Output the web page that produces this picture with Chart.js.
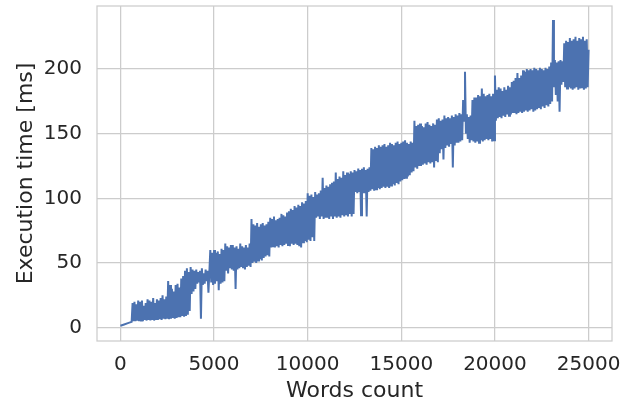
<!DOCTYPE html>
<html><head><meta charset="utf-8">
<script src="https://cdn.jsdelivr.net/npm/chart.js@4/dist/chart.umd.min.js"></script>
<style>html,body{margin:0;padding:0;background:#fff}#wrap{width:640px;height:401px}</style>
</head><body><div id="wrap"><canvas id="c" width="640" height="401"></canvas></div>
<script>
const words = [
  0, 200, 400, 600, 650, 700, 750, 800, 850, 900, 950,
  1000, 1050, 1100, 1150, 1200, 1250, 1300, 1350, 1400, 1450, 1500, 1550, 1600, 1650, 1700, 1750, 1800, 1850, 1900, 1950,
  2000, 2050, 2100, 2150, 2200, 2250, 2300, 2350, 2400, 2450, 2500, 2550, 2600, 2650, 2700, 2750, 2800, 2850, 2900, 2950,
  3000, 3050, 3100, 3150, 3200, 3250, 3300, 3350, 3400, 3450, 3500, 3550, 3600, 3650, 3700, 3750, 3800, 3850, 3900, 3950,
  4000, 4050, 4100, 4150, 4200, 4250, 4300, 4350, 4400, 4450, 4500, 4550, 4600, 4650, 4700, 4750, 4800, 4850, 4900, 4950,
  5000, 5050, 5100, 5150, 5200, 5250, 5300, 5350, 5400, 5450, 5500, 5550, 5600, 5650, 5700, 5750, 5800, 5850, 5900, 5950,
  6000, 6050, 6100, 6150, 6200, 6250, 6300, 6350, 6400, 6450, 6500, 6550, 6600, 6650, 6700, 6750, 6800, 6850, 6900, 6950,
  7000, 7050, 7100, 7150, 7200, 7250, 7300, 7350, 7400, 7450, 7500, 7550, 7600, 7650, 7700, 7750, 7800, 7850, 7900, 7950,
  8000, 8050, 8100, 8150, 8200, 8250, 8300, 8350, 8400, 8450, 8500, 8550, 8600, 8650, 8700, 8750, 8800, 8850, 8900, 8950,
  9000, 9050, 9100, 9150, 9200, 9250, 9300, 9350, 9400, 9450, 9500, 9550, 9600, 9650, 9700, 9750, 9800, 9850, 9900, 9950,
  10000, 10050, 10100, 10150, 10200, 10250, 10300, 10350, 10400, 10450, 10500, 10550, 10600, 10650, 10700, 10750, 10800, 10850, 10900, 10950,
  11000, 11050, 11100, 11150, 11200, 11250, 11300, 11350, 11400, 11450, 11500, 11550, 11600, 11650, 11700, 11750, 11800, 11850, 11900, 11950,
  12000, 12050, 12100, 12150, 12200, 12250, 12300, 12350, 12400, 12450, 12500, 12550, 12600, 12650, 12700, 12750, 12800, 12850, 12900, 12950,
  13000, 13050, 13100, 13150, 13200, 13250, 13300, 13350, 13400, 13450, 13500, 13550, 13600, 13650, 13700, 13750, 13800, 13850, 13900, 13950,
  14000, 14050, 14100, 14150, 14200, 14250, 14300, 14350, 14400, 14450, 14500, 14550, 14600, 14650, 14700, 14750, 14800, 14850, 14900, 14950,
  15000, 15050, 15100, 15150, 15200, 15250, 15300, 15350, 15400, 15450, 15500, 15550, 15600, 15650, 15700, 15750, 15800, 15850, 15900, 15950,
  16000, 16050, 16100, 16150, 16200, 16250, 16300, 16350, 16400, 16450, 16500, 16550, 16600, 16650, 16700, 16750, 16800, 16850, 16900, 16950,
  17000, 17050, 17100, 17150, 17200, 17250, 17300, 17350, 17400, 17450, 17500, 17550, 17600, 17650, 17700, 17750, 17800, 17850, 17900, 17950,
  18000, 18050, 18100, 18150, 18200, 18250, 18300, 18350, 18400, 18450, 18500, 18550, 18600, 18650, 18700, 18750, 18800, 18850, 18900, 18950,
  19000, 19050, 19100, 19150, 19200, 19250, 19300, 19350, 19400, 19450, 19500, 19550, 19600, 19650, 19700, 19750, 19800, 19850, 19900, 19950,
  20000, 20050, 20100, 20150, 20200, 20250, 20300, 20350, 20400, 20450, 20500, 20550, 20600, 20650, 20700, 20750, 20800, 20850, 20900, 20950,
  21000, 21050, 21100, 21150, 21200, 21250, 21300, 21350, 21400, 21450, 21500, 21550, 21600, 21650, 21700, 21750, 21800, 21850, 21900, 21950,
  22000, 22050, 22100, 22150, 22200, 22250, 22300, 22350, 22400, 22450, 22500, 22550, 22600, 22650, 22700, 22750, 22800, 22850, 22900, 22950,
  23000, 23050, 23100, 23150, 23200, 23250, 23300, 23350, 23400, 23450, 23500, 23550, 23600, 23650, 23700, 23750, 23800, 23850, 23900, 23950,
  24000, 24050, 24100, 24150, 24200, 24250, 24300, 24350, 24400, 24450, 24500, 24550, 24600, 24650, 24700, 24750, 24800, 24850, 24900, 24950,
  25000
];
const times = [
  1.5, 2.5, 3.5, 4.5, 19, 5, 20, 5, 18, 5.5, 21,
  5, 20, 5.5, 21, 5, 17, 6, 19, 5.5, 22, 6, 21, 5.5, 20, 6, 23, 5.5, 19, 6, 22,
  6, 21, 6.5, 23, 6, 25, 7, 22, 6.5, 24, 7, 36, 6.5, 33, 7, 30, 7.5, 28, 7, 33,
  7.5, 34, 8, 31, 8, 38, 9, 40, 8.5, 44, 9, 46, 10, 43, 13, 47, 26, 45, 28, 44,
  30, 45, 34, 43, 35, 44, 7, 46, 33, 42, 34, 45, 36, 44, 27, 43, 60, 35, 58, 33,
  60, 34, 58, 36, 59, 29, 57, 34, 61, 35, 60, 36, 65, 44, 63, 42, 62, 46, 64, 45,
  64, 44, 62, 30, 63, 45, 61, 46, 65, 47, 63, 46, 62, 45, 64, 47, 62, 48, 65, 47,
  84, 50, 80, 51, 79, 50, 81, 52, 78, 53, 80, 52, 81, 54, 79, 55, 80, 56, 82, 55,
  85, 62, 84, 63, 86, 62, 83, 63, 84, 62, 85, 64, 88, 63, 87, 64, 86, 65, 89, 64,
  90, 63, 92, 65, 91, 64, 94, 65, 93, 64, 95, 63, 94, 62, 97, 66, 96, 67, 98, 66,
  104, 68, 102, 67, 103, 70, 101, 67, 105, 85, 103, 86, 104, 84, 106, 86, 116, 84, 108, 85,
  110, 85, 109, 84, 111, 86, 112, 84, 113, 86, 120, 85, 115, 86, 117, 85, 116, 87, 121, 86,
  118, 87, 120, 86, 119, 88, 121, 86, 120, 88, 122, 105, 121, 104, 123, 105, 122, 87, 123, 104,
  124, 104, 122, 86, 123, 105, 124, 106, 139, 107, 138, 106, 140, 107, 139, 108, 141, 107, 140, 108,
  141, 109, 142, 108, 140, 109, 141, 108, 143, 110, 142, 111, 141, 110, 143, 112, 144, 111, 142, 113,
  143, 114, 144, 115, 145, 116, 143, 117, 142, 118, 144, 120, 143, 121, 160, 124, 156, 123, 157, 125,
  158, 125, 156, 126, 155, 127, 158, 126, 159, 128, 157, 127, 156, 128, 158, 124, 157, 129, 161, 128,
  162, 135, 160, 138, 161, 130, 164, 139, 162, 141, 163, 140, 162, 142, 164, 124, 163, 141, 165, 143,
  164, 143, 166, 144, 165, 145, 176, 160, 198, 150, 165, 146, 163, 143, 164, 145, 176, 144, 178, 143,
  178, 144, 180, 143, 179, 145, 185, 144, 181, 145, 179, 146, 180, 145, 181, 146, 179, 144, 181, 145,
  195, 160, 184, 162, 186, 163, 185, 162, 183, 164, 186, 163, 184, 165, 187, 164, 186, 165, 190, 166,
  191, 166, 193, 165, 197, 166, 193, 167, 195, 166, 199, 167, 198, 168, 200, 167, 199, 168, 200, 169,
  199, 167, 201, 168, 200, 169, 199, 170, 201, 169, 200, 171, 199, 170, 201, 172, 200, 171, 202, 173,
  205, 175, 238, 186, 207, 180, 205, 175, 206, 167, 207, 188, 206, 190, 220, 186, 222, 185, 221, 186,
  224, 185, 222, 184, 223, 185, 225, 186, 222, 184, 224, 185, 223, 186, 225, 184, 222, 185, 223, 186,
  215
];
const xTicks = [0, 5000, 10000, 15000, 20000, 25000];
const yTicks = [0, 50, 100, 150, 200];
const xLabel = 'Words count';
const yLabel = 'Execution time [ms]';

const GRID = '#cccccc';
const TEXT = '#262626';
const FONT = "'DejaVu Sans', sans-serif";

const frame = {
  id: 'frame',
  afterDatasetsDraw(chart) {
    const a = chart.chartArea, ctx = chart.ctx;
    ctx.save();
    ctx.strokeStyle = GRID;
    ctx.lineWidth = 1.25;
    ctx.strokeRect(a.left, a.top, a.right - a.left, a.bottom - a.top);
    ctx.restore();
  }
};

new Chart(document.getElementById('c'), {
  type: 'line',
  data: {
    datasets: [{
      data: words.map((w, i) => ({x: w, y: times[i]})),
      borderColor: '#4C72B0',
      borderWidth: 2,
      pointRadius: 0,
      fill: false,
      tension: 0
    }]
  },
  options: {
    responsive: false,
    animation: false,
    devicePixelRatio: 1,
    layout: {padding: {top: 6, right: 28, left: 0, bottom: 0}},
    plugins: {legend: {display: false}, tooltip: {enabled: false}},
    scales: {
      x: {
        type: 'linear',
        min: -1250, max: 26250,
        afterBuildTicks: s => { s.ticks = xTicks.map(v => ({value: v})); },
        afterFit: s => { s.height = 60; s.paddingLeft = 0; s.paddingRight = 0; },
        grid: {color: GRID, lineWidth: 1.25, drawTicks: false},
        border: {display: false},
        ticks: {padding: 12, color: TEXT, font: {family: FONT, size: 20}, maxRotation: 0, autoSkip: false, callback: v => String(v)},
        title: {display: true, text: xLabel, color: TEXT, font: {family: FONT, size: 22, lineHeight: 1}, padding: {top: 0, bottom: -1}}
      },
      y: {
        type: 'linear',
        min: -10.3, max: 248.8,
        afterBuildTicks: s => { s.ticks = yTicks.map(v => ({value: v})); },
        afterFit: s => { s.width = 97; s.paddingTop = 0; s.paddingBottom = 0; },
        grid: {color: GRID, lineWidth: 1.25, drawTicks: false},
        border: {display: false},
        ticks: {padding: 15, color: TEXT, font: {family: FONT, size: 20}, autoSkip: false, callback: v => String(v)},
        title: {display: true, text: yLabel, color: TEXT, font: {family: FONT, size: 22, lineHeight: 1}, padding: {top: 15, bottom: 0}}
      }
    }
  },
  plugins: [frame]
});
</script>
</body></html>
